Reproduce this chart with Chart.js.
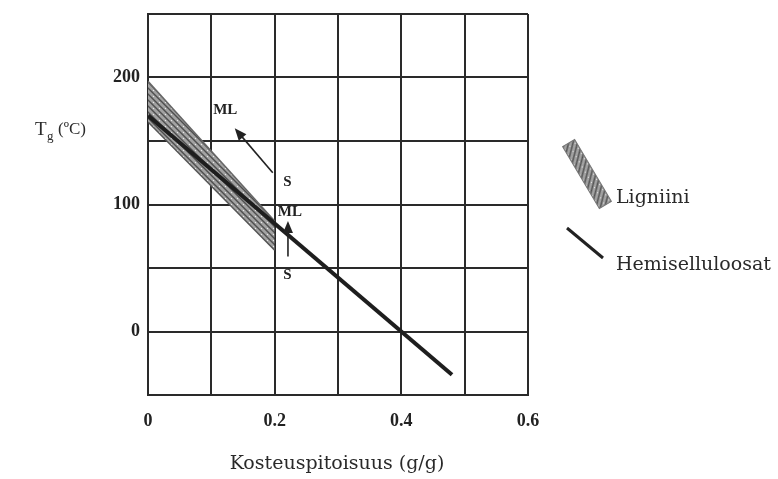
<!DOCTYPE html>
<html>
<head>
<meta charset="utf-8">
<script src="https://cdn.jsdelivr.net/npm/chart.js@4.4.1/dist/chart.umd.min.js"></script>
<style>
body { margin: 0; background: #fff; }
#wrap { width: 778px; height: 479px; position: relative; }
</style>
</head>
<body>
<div id="wrap"><canvas id="chartPicture"></canvas></div>
<script>
// moisture content (g/g) vs Tg (°C)
const hemiX = [0, 0.48];
const hemiY = [170, -34];
const ligninX = [0, 0.2];
const ligninTopY = [197, 87];
const ligninBottomY = [165, 64];
const xTickLabels = { 0: "0", 2: "0.2", 4: "0.4", 6: "0.6" };
const yTickLabels = { 0: "0", 100: "100", 200: "200" };
const arrowFrom = [[0.197, 125], [0.221, 59]];
const arrowTo = [[0.137, 160], [0.221, 87]];
const noteText = ["ML", "S", "ML", "S"];
const noteX = [0.122, 0.22, 0.224, 0.22];
const noteY = [174, 118, 94, 44];

const serif = "'Liberation Serif', 'DejaVu Serif', serif";
const wideSerif = "'DejaVu Serif', serif";
const context = document.getElementById("chartPicture").getContext("2d");

function makeHatch()
{
    const c = document.createElement("canvas");
    c.width = 6;
    c.height = 6;
    const g = c.getContext("2d");
    g.fillStyle = "#a2a2a2";
    g.fillRect(0, 0, 6, 6);
    g.strokeStyle = "#4e4e4e";
    g.lineWidth = 1.4;
    g.beginPath();
    g.moveTo(0, 0); g.lineTo(6, 6);
    g.moveTo(-1, 5); g.lineTo(1, 7);
    g.moveTo(5, -1); g.lineTo(7, 1);
    g.stroke();
    g.fillStyle = "#e8e8e8";
    g.fillRect(3, 0, 1, 1);
    return context.createPattern(c, "repeat");
}
const hatch = makeHatch();

const toPoints = (xs, ys) => xs.map((x, i) => ({ x: x, y: ys[i] }));

const extras =
{
    id: "extras",
    afterDatasetsDraw(chart)
    {
        const ctx = chart.ctx;
        const sx = chart.scales.x;
        const sy = chart.scales.y;
        ctx.save();
        // arrows
        ctx.strokeStyle = "#222";
        ctx.fillStyle = "#222";
        ctx.lineWidth = 1.6;
        for (let i = 0; i < arrowFrom.length; i++)
        {
            const x1 = sx.getPixelForValue(arrowFrom[i][0]);
            const y1 = sy.getPixelForValue(arrowFrom[i][1]);
            const x2 = sx.getPixelForValue(arrowTo[i][0]);
            const y2 = sy.getPixelForValue(arrowTo[i][1]);
            const a = Math.atan2(y2 - y1, x2 - x1);
            ctx.beginPath();
            ctx.moveTo(x1, y1);
            ctx.lineTo(x2 - 6 * Math.cos(a), y2 - 6 * Math.sin(a));
            ctx.stroke();
            ctx.beginPath();
            ctx.moveTo(x2, y2);
            ctx.lineTo(x2 - 12 * Math.cos(a) + 5 * Math.sin(a), y2 - 12 * Math.sin(a) - 5 * Math.cos(a));
            ctx.lineTo(x2 - 12 * Math.cos(a) - 5 * Math.sin(a), y2 - 12 * Math.sin(a) + 5 * Math.cos(a));
            ctx.closePath();
            ctx.fill();
        }
        ctx.font = "bold 15px " + serif;
        ctx.textAlign = "center";
        ctx.textBaseline = "middle";
        for (let i = 0; i < noteText.length; i++)
        {
            ctx.fillText(noteText[i], sx.getPixelForValue(noteX[i]), sy.getPixelForValue(noteY[i]));
        }
        // axis titles
        ctx.fillStyle = "#2a2a2a";
        ctx.font = "19px " + wideSerif;
        ctx.textAlign = "center";
        ctx.fillText("Kosteuspitoisuus (g/g)", 337, 464);
        ctx.textAlign = "left";
        ctx.font = "19px " + serif;
        ctx.fillText("T", 35, 130);
        ctx.font = "13px " + serif;
        ctx.fillText("g", 47, 137);
        ctx.font = "17px " + serif;
        ctx.fillText("(ºC)", 58, 130);
        // legend
        ctx.save();
        ctx.translate(587, 174);
        ctx.rotate(Math.atan2(64, 38));
        ctx.fillStyle = hatch;
        ctx.fillRect(-36, -7, 72, 14);
        ctx.strokeStyle = "#777";
        ctx.lineWidth = 1;
        ctx.strokeRect(-36, -7, 72, 14);
        ctx.restore();
        ctx.strokeStyle = "#222";
        ctx.lineWidth = 3;
        ctx.beginPath();
        ctx.moveTo(567, 228);
        ctx.lineTo(603, 258);
        ctx.stroke();
        ctx.fillStyle = "#2a2a2a";
        ctx.font = "19px " + wideSerif;
        ctx.fillText("Ligniini", 616, 198);
        ctx.fillText("Hemiselluloosat", 616, 265);
        ctx.restore();
    }
};

const configObject =
{
    type: "scatter",
    data:
    {
        datasets:
        [
            {
                label: "Hemiselluloosat",
                data: toPoints(hemiX, hemiY),
                showLine: true,
                borderColor: "#1e1e1e",
                borderWidth: 4,
                pointRadius: 0,
                fill: false,
            },
            {
                label: "Ligniini top",
                data: toPoints(ligninX, ligninTopY),
                showLine: true,
                borderColor: "#666",
                borderWidth: 1.5,
                pointRadius: 0,
                fill: false,
            },
            {
                label: "Ligniini",
                data: toPoints(ligninX, ligninBottomY),
                showLine: true,
                borderColor: "#555",
                borderWidth: 1.5,
                pointRadius: 0,
                fill: 1,
                backgroundColor: hatch,
            },
        ],
    },
    options:
    {
        responsive: true,
        maintainAspectRatio: false,
        animation: false,
        layout: { padding: { top: 14, right: 250, left: 0, bottom: 0 } },
        plugins:
        {
            legend: { display: false },
            tooltip: { enabled: false },
        },
        scales:
        {
            x:
            {
                type: "linear",
                min: 0,
                max: 0.6,
                afterFit: (scale) => { scale.height = 84; scale.paddingLeft = 0; scale.paddingRight = 0; },
                border: { color: "#2a2a2a", width: 2 },
                grid: { color: "#2a2a2a", lineWidth: 2, drawTicks: false },
                ticks:
                {
                    stepSize: 0.1,
                    padding: 16,
                    color: "#222",
                    font: { family: serif, size: 18, weight: "bold" },
                    callback: (v) => xTickLabels[Math.round(v * 10)] || "",
                },
            },
            y:
            {
                min: -50,
                max: 250,
                afterFit: (scale) => { scale.width = 148; scale.paddingTop = 0; scale.paddingBottom = 0; },
                border: { color: "#2a2a2a", width: 2 },
                grid: { color: "#2a2a2a", lineWidth: 2, drawTicks: false },
                ticks:
                {
                    stepSize: 50,
                    padding: 8,
                    color: "#222",
                    font: { family: serif, size: 18, weight: "bold" },
                    callback: (v) => yTickLabels[v] || "",
                },
            },
        },
    },
    plugins: [extras],
};

const myChart = new Chart(context, configObject);
</script>
</body>
</html>
